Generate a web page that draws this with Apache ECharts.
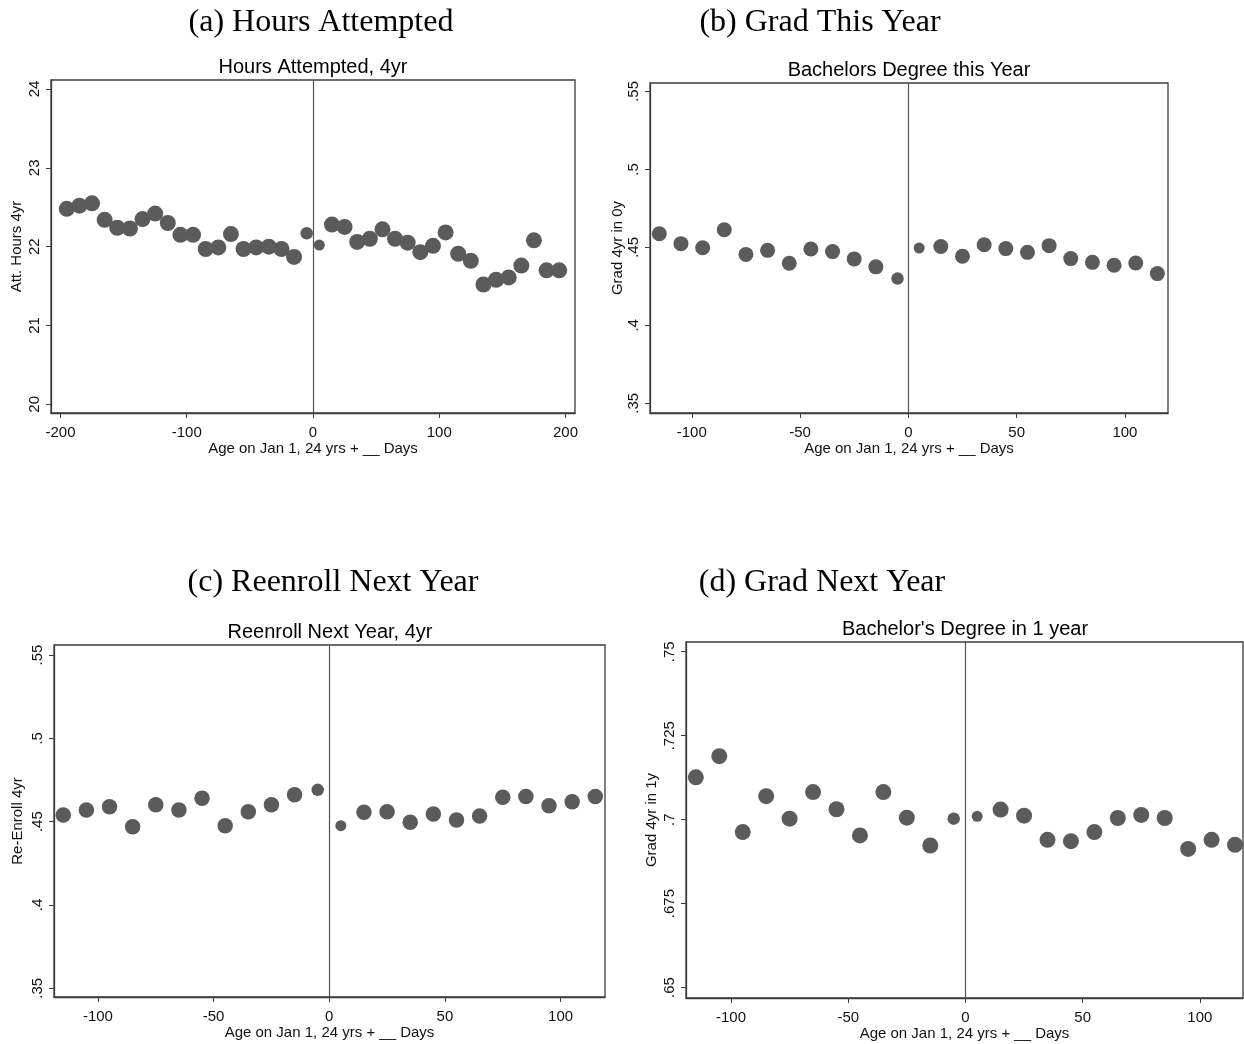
<!DOCTYPE html>
<html>
<head>
<meta charset="utf-8">
<title>Age cutoff outcomes</title>
<script src="https://cdn.jsdelivr.net/npm/echarts@6/dist/echarts.min.js"></script>
<style>
  html, body { margin: 0; padding: 0; background: #ffffff; }
  #chart { width: 1244px; height: 1044px; }
</style>
</head>
<body>
<div id="chart"></div>
<script>
// Bin midpoints (days from the Jan 1 cutoff at age 24)
const hoursDays = [-195, -185, -175, -165, -155, -145, -135, -125, -115, -105,
                   -95, -85, -75, -65, -55, -45, -35, -25, -15, -5,
                   5, 15, 25, 35, 45, 55, 65, 75, 85, 95,
                   105, 115, 125, 135, 145, 155, 165, 175, 185, 195];
const narrowDays = [-115, -105, -95, -85, -75, -65, -55, -45, -35, -25, -15, -5,
                    5, 15, 25, 35, 45, 55, 65, 75, 85, 95, 105, 115];

// Bin means
const hoursAttempted = [22.48, 22.52, 22.55, 22.34, 22.24, 22.23, 22.35, 22.42, 22.30, 22.15,
                        22.15, 21.97, 21.99, 22.16, 21.97, 21.99, 22.00, 21.97, 21.87, 22.17,
                        22.02, 22.28, 22.25, 22.06, 22.10, 22.22, 22.10, 22.05, 21.93, 22.01,
                        22.18, 21.91, 21.82, 21.52, 21.58, 21.61, 21.76, 22.08, 21.70, 21.70];
const gradThisYear = [0.4587, 0.4524, 0.4498, 0.4613, 0.4455, 0.4481, 0.4398, 0.4490, 0.4473, 0.4426, 0.4375, 0.4300,
                      0.4496, 0.4506, 0.4443, 0.4517, 0.4492, 0.4468, 0.4511, 0.4428, 0.4404, 0.4385, 0.4400, 0.4332];
const reenrollNextYear = [0.4540, 0.4570, 0.4590, 0.4470, 0.4601, 0.4570, 0.4641, 0.4476, 0.4560, 0.4601, 0.4661, 0.4691,
                          0.4476, 0.4557, 0.4560, 0.4496, 0.4546, 0.4510, 0.4534, 0.4647, 0.4651, 0.4595, 0.4620, 0.4651];
const gradNextYear = [0.7126, 0.7189, 0.6963, 0.7070, 0.7003, 0.7082, 0.7031, 0.6953, 0.7082, 0.7006, 0.6923, 0.7003,
                      0.7010, 0.7030, 0.7012, 0.6940, 0.6936, 0.6963, 0.7005, 0.7014, 0.7005, 0.6913, 0.6940, 0.6925];

// Tick values
const hoursXTicks = [-200, -100, 0, 100, 200];
const narrowXTicks = [-100, -50, 0, 50, 100];
const hoursYTicks = [20, 21, 22, 23, 24];
const shareYTicks = [0.35, 0.4, 0.45, 0.5, 0.55];
const gradNextYTicks = [0.65, 0.675, 0.7, 0.725, 0.75];

// Text
const panelHeadings = ['(a) Hours Attempted', '(b) Grad This Year', '(c) Reenroll Next Year', '(d) Grad Next Year'];
const plotTitles = ['Hours Attempted, 4yr', 'Bachelors Degree this Year', 'Reenroll Next Year, 4yr', "Bachelor's Degree in 1 year"];
const yTitles = ['Att. Hours 4yr', 'Grad 4yr in 0y', 'Re-Enroll 4yr', 'Grad 4yr in 1y'];
const xTitle = 'Age on Jan 1, 24 yrs + __ Days';

const SANS = 'Liberation Sans, Arial, sans-serif';
const SERIF = 'Liberation Serif, Times New Roman, serif';
const FRAME = '#3c3c3c';
const DOT = '#5b5b5b';

const chart = echarts.init(document.getElementById('chart'), null, { renderer: 'canvas' });

// Plot-region boxes and axis extents for the four panels
const panels = [
  { grid: { left: 51, top: 80, width: 524, height: 333 }, x: [-207.5, 207.5], y: [19.89, 24.114],
    xTicks: hoursXTicks, yTicks: hoursYTicks, days: hoursDays, vals: hoursAttempted, dot: 16, nameGap: 27,
    heading: [321, 7], title: [313, 57] },
  { grid: { left: 650, top: 83, width: 518, height: 330 }, x: [-119.3, 119.9], y: [0.3438, 0.5554],
    xTicks: narrowXTicks, yTicks: shareYTicks, days: narrowDays, vals: gradThisYear, dot: 15, nameGap: 25,
    heading: [820, 7], title: [909, 60] },
  { grid: { left: 54, top: 645, width: 551, height: 352 }, x: [-119.0, 119.2], y: [0.3448, 0.556],
    xTicks: narrowXTicks, yTicks: shareYTicks, days: narrowDays, vals: reenrollNextYear, dot: 15.5, nameGap: 29,
    heading: [333, 567], title: [330, 622] },
  { grid: { left: 686, top: 642, width: 557, height: 356 }, x: [-119.2, 118.4], y: [0.6469, 0.7529],
    xTicks: narrowXTicks, yTicks: gradNextYTicks, days: narrowDays, vals: gradNextYear, dot: 16, nameGap: 27,
    heading: [822, 567], title: [965, 619] }
];

const fmtShare = v => String(+v.toFixed(4)).replace(/^0\./, '.');

const option = {
  backgroundColor: '#ffffff',
  animation: false,
  title: [],
  grid: [],
  xAxis: [],
  yAxis: [],
  series: []
};

panels.forEach((p, i) => {
  option.title.push({
    text: panelHeadings[i], left: p.heading[0], top: p.heading[1], textAlign: 'center', padding: 0,
    textStyle: { fontFamily: SERIF, fontSize: 32, fontWeight: 'normal', color: '#000000' }
  });
  option.title.push({
    text: plotTitles[i], left: p.title[0], top: p.title[1], textAlign: 'center', padding: 0,
    textStyle: { fontFamily: SANS, fontSize: 20, fontWeight: 'normal', color: '#000000' }
  });
  option.grid.push(Object.assign({ show: true, borderColor: FRAME, borderWidth: 1.3, backgroundColor: '#ffffff', containLabel: false }, p.grid));
  option.xAxis.push({
    type: 'value', gridIndex: i, min: p.x[0], max: p.x[1],
    name: xTitle, nameLocation: 'middle', nameGap: 27,
    nameTextStyle: { fontFamily: SANS, fontSize: 15, color: '#111111' },
    axisLine: { show: true, onZero: false, lineStyle: { color: FRAME, width: 1.3 } },
    axisTick: { show: true, inside: false, length: 5, customValues: p.xTicks, lineStyle: { color: FRAME, width: 1 } },
    axisLabel: { customValues: p.xTicks, margin: 12, fontFamily: SANS, fontSize: 15, color: '#111111' },
    splitLine: { show: false }
  });
  option.yAxis.push({
    type: 'value', gridIndex: i, min: p.y[0], max: p.y[1],
    name: yTitles[i], nameLocation: 'middle', nameRotate: 90, nameGap: p.nameGap,
    nameTextStyle: { fontFamily: SANS, fontSize: 15, color: '#111111' },
    axisLine: { show: true, onZero: false, lineStyle: { color: FRAME, width: 1.3 } },
    axisTick: { show: true, inside: false, length: 5, customValues: p.yTicks, lineStyle: { color: FRAME, width: 1 } },
    axisLabel: { customValues: p.yTicks, rotate: 90, margin: 9, fontFamily: SANS, fontSize: 15, color: '#111111',
                 formatter: v => (i === 0 ? String(v) : fmtShare(v)) },
    splitLine: { show: false }
  });
  const dot = p.dot;
  option.series.push({
    type: 'scatter', xAxisIndex: i, yAxisIndex: i,
    data: p.days.map((d, k) => [d, p.vals[k]]),
    symbol: 'circle',
    symbolSize: v => (v[0] === 5 ? 11 : v[0] === -5 ? 12.5 : dot),
    itemStyle: { color: DOT, opacity: 1 },
    markLine: {
      silent: true, symbol: 'none', animation: false,
      label: { show: false },
      lineStyle: { color: '#555555', width: 1.2, type: 'solid' },
      data: [{ xAxis: 0 }]
    },
    z: 3
  });
});

chart.setOption(option);
</script>
</body>
</html>
